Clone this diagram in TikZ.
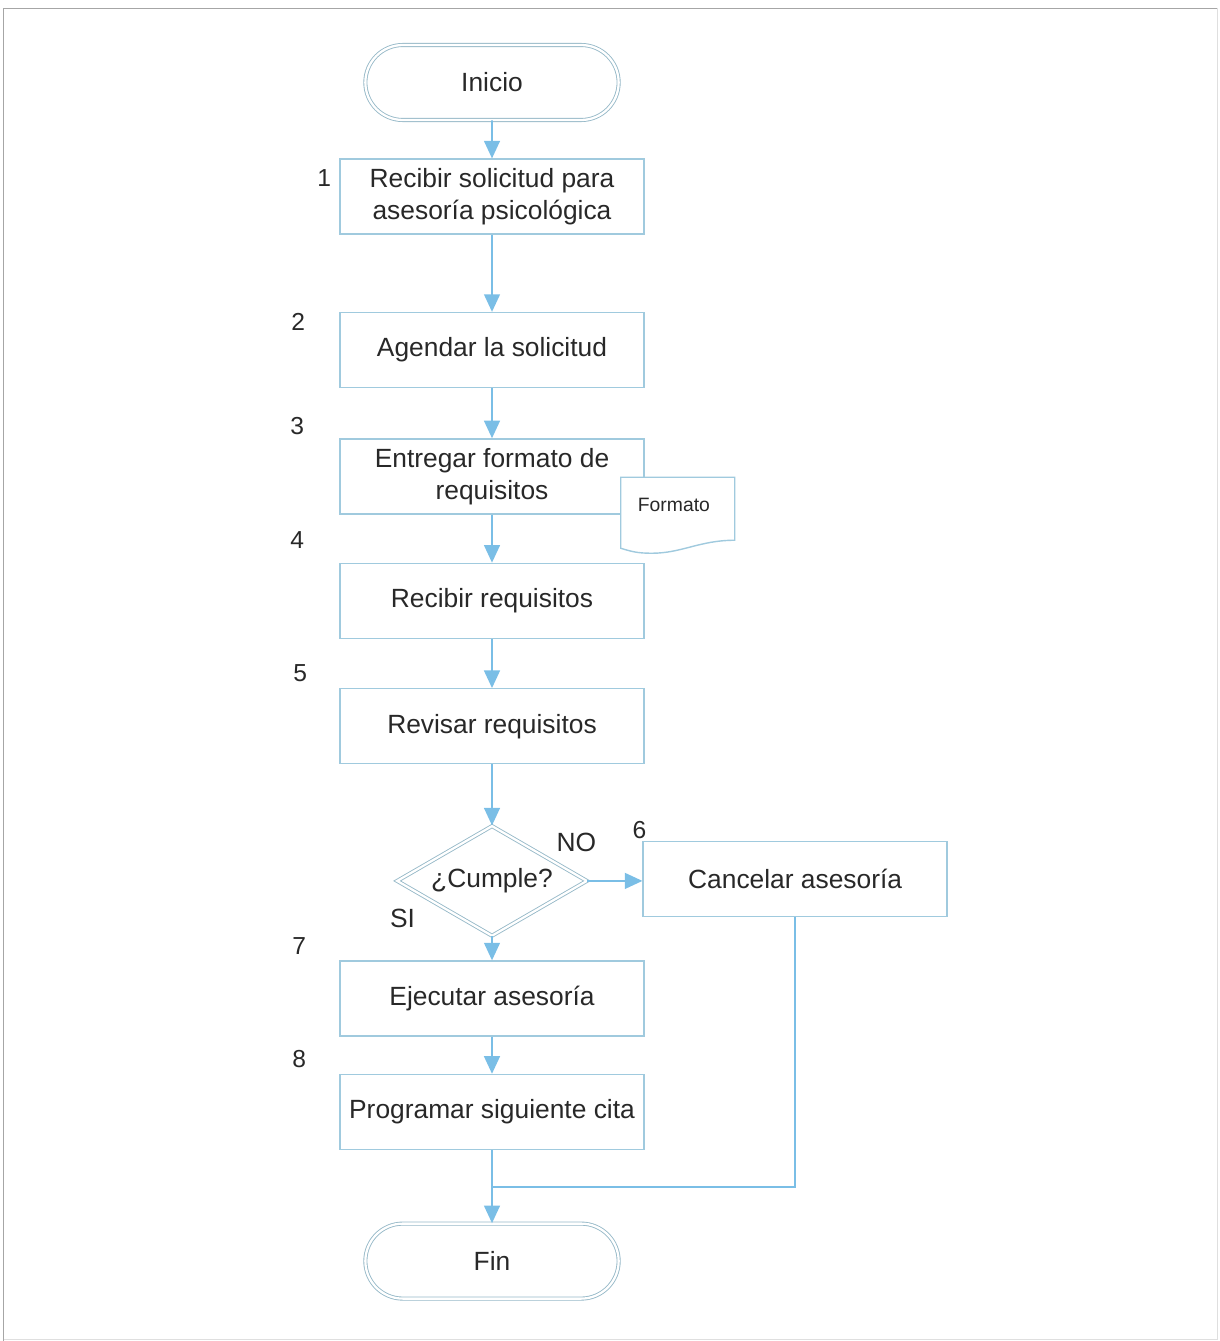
\documentclass[tikz,border=0pt]{standalone}
\usepackage{fontspec}
\setmainfont{Liberation Sans}
\usepackage{xcolor}
\usetikzlibrary{shapes.geometric,shapes.misc,arrows.meta,positioning}

\definecolor{boxline}{RGB}{160,202,222}
\definecolor{flowblue}{RGB}{122,190,230}
\definecolor{termline}{RGB}{150,185,200}
\definecolor{txtgray}{RGB}{40,40,40}

\begin{document}
\begin{tikzpicture}[
    node distance=1cm,
    every node/.style={text=txtgray},
    terminal/.style={rounded rectangle, draw=termline, double=white, double distance=1.3pt, line width=0.5pt, minimum width=5.3cm, minimum height=1.5cm, font=\fontsize{15}{18}\selectfont},
    proc/.style={rectangle, draw=boxline, line width=0.8pt, minimum width=6.08cm, minimum height=1.5cm, align=center, font=\fontsize{15}{18}\selectfont},
    decision/.style={diamond, aspect=1.7, draw=termline, double=white, double distance=1.3pt, line width=0.5pt, minimum width=3.8cm, minimum height=2.2cm, inner sep=0pt, font=\fontsize{15}{18}\selectfont},
    num/.style={font=\fontsize{14}{16}\selectfont},
    flow/.style={-{Triangle[width=9pt,length=10pt]}, draw=flowblue, fill=flowblue, line width=1.1pt},
    joinline/.style={draw=flowblue, line width=1.1pt}
  ]

  % page frame
  \path[use as bounding box] (0,0) rectangle (24.4,-26.82);
  \draw[gray!70, line width=0.8pt] (0.07,-26.82) -- (0.07,-0.17) -- (24.34,-0.17);
  \draw[gray!25, line width=0.5pt] (24.34,-0.17) -- (24.34,-26.78) -- (0.07,-26.78);

  \node[terminal] (inicio) at (9.84,-1.65) {Inicio};
  \node[proc, below=0.76cm of inicio] (b1) {Recibir solicitud para\\asesoría psicológica};
  \node[proc, below=1.54cm of b1] (b2) {Agendar la solicitud};
  \node[proc, below=1.0cm of b2] (b3) {Entregar formato de\\requisitos};
  \node[proc, below=0.96cm of b3] (b4) {Recibir requisitos};
  \node[proc, below=0.98cm of b4] (b5) {Revisar requisitos};
  \node[decision, below=1.22cm of b5] (cumple) {¿Cumple?};
  \node[proc, right=1.1cm of cumple, yshift=0.04cm] (b6) {Cancelar asesoría};
  \node[proc, below=0.48cm of cumple] (b7) {Ejecutar asesoría};
  \node[proc, below=0.74cm of b7] (b8) {Programar siguiente cita};
  \node[terminal, below=1.46cm of b8] (fin) {Fin};

  % documento
  \coordinate (d0) at ([xshift=-0.48cm,yshift=-0.78cm]b3.north east);
  \filldraw[fill=white, draw=boxline, line width=0.8pt]
    (d0) -- ++(2.28,0) -- ++(0,-1.26)
    .. controls ++(-0.7,0) and ++(0.6,0) .. ++(-1.66,-0.26)
    .. controls ++(-0.3,0) and ++(0.2,-0.06) .. ++(-0.62,0.1) -- cycle;
  \node[font=\fontsize{11}{13}\selectfont, right=0.22cm of d0, yshift=-0.56cm] (formato) {Formato};

  % numeros
  \node[num] at ([xshift=-0.3cm,yshift=-0.4cm]b1.north west) {1};
  \node[num] at ([xshift=-0.82cm,yshift=-0.2cm]b2.north west) {2};
  \node[num] at ([xshift=-0.84cm,yshift=0.24cm]b3.north west) {3};
  \node[num] at ([xshift=-0.84cm,yshift=0.46cm]b4.north west) {4};
  \node[num] at ([xshift=-0.78cm,yshift=0.3cm]b5.north west) {5};
  \node[num] at ([xshift=-0.06cm,yshift=0.22cm]b6.north west) {6};
  \node[num] at ([xshift=-0.8cm,yshift=0.28cm]b7.north west) {7};
  \node[num] at ([xshift=-0.8cm,yshift=0.3cm]b8.north west) {8};

  \node[num, font=\fontsize{15}{18}\selectfont] (no) at ([xshift=-0.22cm,yshift=0.76cm]cumple.east) {NO};
  \node[num, font=\fontsize{15}{18}\selectfont] (si) at ([xshift=0.12cm,yshift=-0.76cm]cumple.west) {SI};

  \draw[flow] (inicio) -- (b1);
  \draw[flow] (b1) -- (b2);
  \draw[flow] (b2) -- (b3);
  \draw[flow] (b3) -- (b4);
  \draw[flow] (b4) -- (b5);
  \draw[flow] (b5) -- (cumple);
  \draw[flow] (cumple.east) -- (b6.west |- cumple.east);
  \draw[flow] (cumple) -- (b7);
  \draw[flow] (b7) -- (b8);
  \coordinate[below=0.74cm of b8.south] (m);
  \draw[joinline] (b6.south) |- (m);
  \draw[flow] (b8) -- (fin);

  \end{tikzpicture}
\end{document}
